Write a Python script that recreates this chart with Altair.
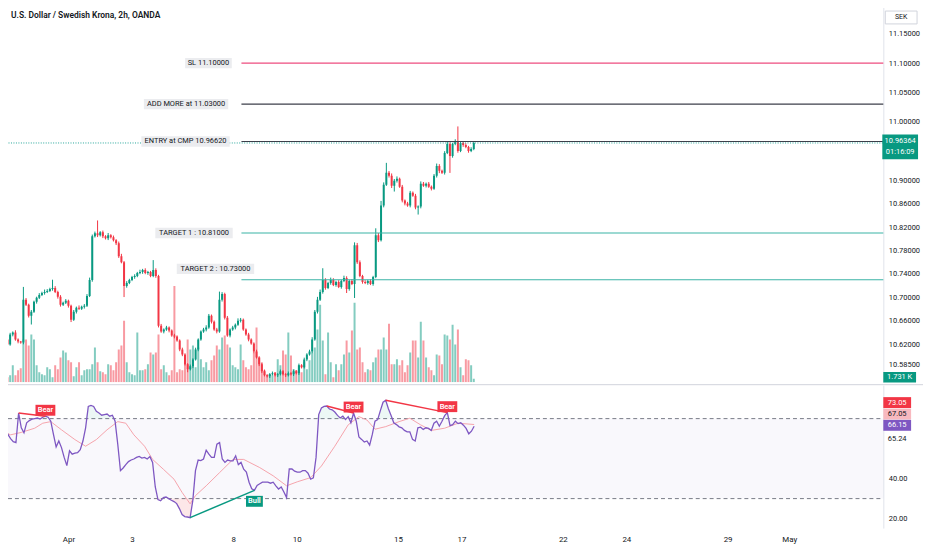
import altair as alt
import pandas as pd

# ---------------- data ----------------
TITLE = "U.S. Dollar / Swedish Krona, 2h, OANDA"
CURRENCY = "SEK"

FIRST_OPEN = 10.6279
CLOSE = [
    10.6194, 10.6364, 10.6398, 10.6279, 10.6245, 10.6228, 10.6958, 10.6872, 10.6686, 10.6754,
    10.6923, 10.6991, 10.7042, 10.7076, 10.7093, 10.7110, 10.7144, 10.7161, 10.7093, 10.7008,
    10.6872, 10.6906, 10.6940, 10.6855, 10.6618, 10.6754, 10.6822, 10.6805, 10.6838, 10.6855,
    10.7025, 10.7297, 10.8042, 10.8093, 10.8059, 10.8110, 10.8042, 10.8008, 10.8059, 10.8025,
    10.7974, 10.7923, 10.7703, 10.7601, 10.7195, 10.7246, 10.7297, 10.7347, 10.7364, 10.7415,
    10.7432, 10.7466, 10.7415, 10.7432, 10.7364, 10.7466, 10.7364, 10.6516, 10.6415, 10.6449,
    10.6483, 10.6432, 10.6347, 10.6330, 10.6262, 10.6110, 10.6025, 10.5856, 10.5771, 10.5822,
    10.5940, 10.6110, 10.6279, 10.6415, 10.6449, 10.6483, 10.6686, 10.6584, 10.6449, 10.6415,
    10.6958, 10.7059, 10.6652, 10.6347, 10.6449, 10.6483, 10.6533, 10.6601, 10.6618, 10.6449,
    10.6364, 10.6279, 10.6211, 10.6076, 10.5974, 10.5856, 10.5737, 10.5669, 10.5652, 10.5686,
    10.5703, 10.5669, 10.5686, 10.5737, 10.5686, 10.5669, 10.5703, 10.5686, 10.5737, 10.5703,
    10.5839, 10.5805, 10.5940, 10.6025, 10.6076, 10.6279, 10.6754, 10.6958, 10.7093, 10.7297,
    10.7161, 10.7246, 10.7297, 10.7212, 10.7263, 10.7178, 10.7280, 10.7330, 10.7144, 10.7280,
    10.7229, 10.7889, 10.7601, 10.7364, 10.7263, 10.7246, 10.7280, 10.7229, 10.7347, 10.8059,
    10.7974, 10.8567, 10.8923, 10.9127, 10.9076, 10.8907, 10.8991, 10.9025, 10.8890, 10.8652,
    10.8601, 10.8567, 10.8788, 10.8737, 10.8534, 10.8550, 10.8940, 10.8907, 10.8940, 10.8890,
    10.8856, 10.9076, 10.9245, 10.9161, 10.9127, 10.9466, 10.9618, 10.9415, 10.9618, 10.9669,
    10.9500, 10.9635, 10.9601, 10.9567, 10.9500, 10.9533, 10.96364,
]
# wick lengths beyond the body, in thousandths of a krona
UPPER_WICK = [
    2, 3, 2, 4, 2, 1, 22, 3, 2, 3,
    2, 2, 3, 2, 4, 3, 2, 14, 3, 2,
    3, 2, 3, 2, 2, 3, 2, 4, 2, 3,
    3, 4, 3, 3, 22, 2, 3, 2, 4, 2,
    3, 2, 3, 4, 2, 3, 2, 2, 3, 2,
    4, 2, 3, 2, 2, 17, 3, 2, 3, 2,
    3, 2, 2, 3, 2, 2, 3, 2, 2, 3,
    2, 3, 2, 2, 3, 4, 3, 2, 2, 3,
    14, 3, 2, 3, 2, 3, 2, 4, 3, 2,
    2, 3, 2, 2, 3, 2, 2, 3, 2, 2,
    3, 2, 2, 3, 2, 2, 3, 2, 3, 2,
    3, 2, 3, 2, 3, 4, 3, 5, 4, 20,
    3, 2, 4, 3, 2, 3, 2, 4, 3, 2,
    3, 5, 4, 3, 2, 3, 2, 3, 2, 12,
    4, 8, 4, 17, 3, 4, 3, 4, 2, 3,
    2, 3, 3, 2, 3, 2, 4, 3, 2, 3,
    2, 3, 4, 3, 2, 3, 4, 3, 2, 3,
    25, 3, 2, 3, 2, 3, 2,
]
LOWER_WICK = [
    2, 2, 3, 2, 3, 2, 3, 2, 3, 15,
    2, 3, 2, 2, 3, 2, 2, 3, 2, 3,
    3, 2, 2, 3, 4, 2, 3, 2, 2, 3,
    2, 2, 3, 2, 3, 2, 3, 2, 3, 2,
    2, 3, 3, 2, 19, 3, 2, 2, 3, 2,
    2, 3, 2, 3, 2, 2, 3, 3, 2, 3,
    2, 3, 2, 3, 2, 3, 3, 2, 5, 2,
    3, 2, 3, 2, 2, 3, 2, 3, 2, 3,
    2, 3, 3, 2, 3, 2, 3, 2, 3, 2,
    2, 3, 2, 3, 2, 3, 3, 2, 2, 3,
    2, 2, 3, 2, 2, 3, 2, 2, 3, 2,
    3, 2, 2, 3, 2, 3, 2, 3, 2, 3,
    3, 2, 3, 2, 3, 2, 3, 2, 7, 3,
    2, 24, 3, 2, 3, 2, 3, 2, 3, 2,
    3, 2, 3, 2, 3, 4, 10, 3, 2, 3,
    3, 2, 3, 2, 3, 12, 3, 2, 3, 2,
    3, 2, 3, 4, 2, 3, 2, 29, 3, 2,
    3, 2, 3, 2, 3, 2, 2,
]
VOLUME_K = [
    2.5, 3.5, 8.5, 3.5, 6, 7, 21.5, 21.5, 18.5, 24,
    21.5, 8.5, 5, 4, 3.5, 7.5, 6.5, 2.5, 8.5, 6.5,
    12.5, 16, 15, 11, 10, 3, 7.5, 10, 3.5, 6,
    6.5, 6.5, 9, 17.5, 10, 5.5, 5, 4, 9, 8.5,
    6, 10, 16.5, 18.5, 31, 10, 5, 4, 3.5, 25,
    6, 6, 6.5, 9, 15, 14, 15, 24, 6.5, 8.5,
    5, 3.5, 6, 48.5, 5, 6.5, 6, 12.5, 21.5, 16.5,
    18.5, 7.5, 17.5, 11.5, 7.5, 10, 6, 11, 13.5, 18.5,
    16.5, 22.5, 23.5, 19, 17.5, 8.5, 7.5, 6.5, 19, 11,
    7.5, 6.5, 8.5, 15, 27.5, 12.5, 10, 6, 3.5, 4,
    3.5, 5, 11.5, 8.5, 16, 14, 25, 13.5, 6.5, 6,
    8.5, 5, 10, 6.5, 11, 15, 17.5, 26.5, 39, 21,
    4, 25, 10, 2.5, 9, 6, 9, 14, 21, 15,
    26, 40, 16.5, 17.5, 10, 5, 6.5, 6, 10, 12.5,
    16.5, 16.5, 22.5, 16.5, 29.5, 9, 9, 11.5, 8.5, 11,
    5, 8.5, 15, 21, 21, 12.5, 30.5, 21, 12.5, 7.5,
    6, 3.5, 14, 13.5, 9, 24, 23.5, 21.5, 29, 19,
    26.5, 7.5, 3.5, 11.5, 11, 8.5, 1.731,
]
RSI = [
    65.4, 65.1, 62.1, 60.0, 58.5, 58.0, 72.8, 65.4, 62.9, 67.9,
    69.0, 69.7, 70.0, 70.3, 69.8, 70.7, 71.2, 70.7, 68.7, 62.1,
    55.8, 58.8, 55.5, 50.6, 46.5, 53.9, 52.2, 52.7, 53.0, 54.5,
    58.8, 65.4, 76.1, 76.6, 76.1, 73.6, 72.8, 71.7, 72.0, 72.3,
    71.2, 71.7, 68.7, 57.2, 44.0, 45.3, 47.0, 48.5, 49.3, 49.8,
    50.6, 51.1, 50.3, 50.6, 49.8, 51.0, 48.1, 35.8, 29.5, 28.9,
    30.5, 30.8, 30.0, 29.2, 28.5, 27.5, 25.0, 22.0, 21.0, 20.8,
    20.5, 29.0, 44.0, 49.3, 49.0, 49.8, 54.2, 52.2, 50.6, 50.6,
    57.2, 58.0, 49.8, 48.1, 49.3, 48.9, 48.9, 51.4, 47.0, 48.1,
    44.7, 43.3, 38.2, 34.9, 34.1, 36.6, 37.4, 38.2, 38.2, 38.2,
    37.7, 38.2, 36.4, 34.8, 35.8, 33.3, 30.5, 44.8, 44.8, 43.7,
    43.2, 43.2, 44.0, 44.0, 42.7, 39.7, 40.4, 50.6, 72.0, 75.3,
    76.1, 76.3, 74.8, 74.4, 73.3, 71.6, 70.3, 71.2, 69.5, 71.0,
    67.9, 72.8, 68.7, 60.8, 59.6, 58.3, 58.8, 56.7, 62.1, 68.7,
    69.5, 74.0, 78.2, 79.2, 74.9, 71.5, 67.9, 67.0, 65.9, 65.4,
    64.1, 63.4, 63.4, 59.6, 58.8, 65.4, 65.7, 64.6, 65.4, 65.1,
    64.1, 67.7, 68.7, 66.2, 68.7, 71.5, 73.0, 66.5, 67.0, 68.7,
    67.5, 67.9, 66.7, 65.1, 62.4, 63.7, 66.15,
]
RSI_MA_BAR = [0, 3, 7, 12, 15, 18, 22, 27, 31, 35, 39, 43, 46, 49, 53, 56, 60, 64, 67, 70,
              72, 76, 81, 86, 90, 96, 101, 106, 110, 115, 119, 124, 129, 133, 136, 139, 143,
              148, 152, 156, 160, 165, 170, 176]
RSI_MA = [63.6, 61.9, 63.1, 65.2, 67.7, 68.5, 64.4, 59.5, 56.2, 59.5, 64.4, 68.5, 67.7, 61.9,
          56.2, 49.6, 44.7, 39.7, 33.1, 27.4, 31.5, 36.4, 43.0, 49.6, 49.6, 45.5, 41.4, 36.4,
          38.4, 40.5, 46.3, 56.2, 66.9, 71.0, 69.3, 64.7, 66.0, 68.5, 70.2, 66.9, 64.1, 65.2,
          67.7, 67.05]

DIV_KIND = ["Bear", "Bear", "Bear", "Bull"]
DIV_FROM_BAR = [6, 121, 143, 70]
DIV_FROM_RSI = [72.8, 76.3, 79.2, 20.5]
DIV_TO_BAR = [16, 131, 166, 94]
DIV_TO_RSI = [71.2, 72.8, 73.0, 34.1]

PRICE_TICKS = [11.15, 11.10, 11.05, 11.00, 10.90, 10.86, 10.82, 10.78, 10.74, 10.70,
               10.66, 10.62, 10.585]
RSI_TICKS = [40, 20]
DATE_TICK_BARS = [24.6, 48.3, 86.1, 109.8, 147.6, 171.3, 209.1, 232.8, 270.6, 293.6]
DATE_LABELS = ["Apr", "3", "8", "10", "15", "17", "22", "24", "29", "May"]

LEVEL_TEXT = ["SL 11.10000", "ADD MORE at 11.03000", "ENTRY at CMP 10.96620",
              "TARGET 1 : 10.81000", "TARGET 2 : 10.73000"]
LEVEL_PRICE = [11.10, 11.03, 10.9662, 10.81, 10.73]
LEVEL_FROM_BAR = 88.3
LEVEL_LABEL_BAR = [75.85, 67.4, 67.2, 70.4, 78.5]

LAST_PRICE = 10.96364
COUNTDOWN = "01:16:09"
LAST_VOLUME_K = 1.731
RSI_LAST = 66.15
RSI_MA_LAST = 67.05
RSI_UPPER = 73.05
RSI_OTHER = 65.24

# ---------------- styling / layout ----------------
FONT = "Roboto"
TXT = "#131722"
UP = "#089981"
DOWN = "#F23645"
LEVEL_COLOR = ["#ee4d7f", "#3c3f4a", "#3c3f4a", "#3bb3a6", "#3bb3a6"]
LEVEL_BOX_W = [47, 85, 89, 78, 78]
LEVEL_DY = [0, 0, 0, 0, -11]

W = 889
H_TOP = 383
H_RSI = 144
X_DOMAIN = [-0.556, 328.7]
PRICE_DOMAIN = [10.55508, 11.20424]
VOL_DOMAIN = [0, 191.5]
RSI_DOMAIN = [15.26, 86.72]
RX = W + 16  # centre of the right-hand value boxes


def box(w, h):
    return f"M{-w / 2},{-h / 2}H{w / 2}V{h / 2}H{-w / 2}Z"


n = len(CLOSE)
opens = [FIRST_OPEN] + CLOSE[:-1]
rows = []
for i in range(n):
    o, c = opens[i], CLOSE[i]
    rows.append(dict(
        i=i, open=o, close=c,
        high=max(o, c) + UPPER_WICK[i] / 1000.0,
        low=min(o, c) - LOWER_WICK[i] / 1000.0,
        vol=VOLUME_K[i], rsi=RSI[i],
        col=UP if c >= o else DOWN,
    ))
df = pd.DataFrame(rows)

xs = alt.Scale(domain=X_DOMAIN, nice=False, zero=False)
ps = alt.Scale(domain=PRICE_DOMAIN, nice=False, zero=False)
vs = alt.Scale(domain=VOL_DOMAIN, nice=False, zero=False)
rs = alt.Scale(domain=RSI_DOMAIN, nice=False, zero=False)
dir_color = alt.Color("col:N", scale=None)

price_axis = alt.Axis(orient="right", values=PRICE_TICKS, format=".5f", ticks=False, grid=False,
                      domain=True, domainColor="#e0e3eb", labelPadding=5, labelFontSize=7.5,
                      labelColor=TXT, labelFont=FONT, title=None)
rsi_axis = alt.Axis(orient="right", values=RSI_TICKS, format=".2f", ticks=False, grid=False,
                    domain=True, domainColor="#e0e3eb", labelPadding=5, labelFontSize=7.5,
                    labelColor=TXT, labelFont=FONT, title=None)
label_expr = f"{DATE_LABELS}[indexof({DATE_TICK_BARS}, datum.value)]"
date_axis = alt.Axis(values=DATE_TICK_BARS, labelExpr=label_expr, ticks=False, domain=False,
                     grid=False, labelPadding=8, labelFontSize=8, labelColor=TXT, labelFont=FONT,
                     title=None)


def XT(f):
    return alt.X(f, scale=xs, axis=None, title=None)


def YP(f):
    return alt.Y(f, scale=ps, axis=price_axis, title=None)


def XR(f):
    return alt.X(f, scale=xs, axis=date_axis, title=None)


def YR(f):
    return alt.Y(f, scale=rs, axis=rsi_axis, title=None)


def YV(f):
    return alt.Y(f, scale=vs, axis=None, title=None)


base = alt.Chart(df)

# ---- volume group ----
vol_bars = base.mark_bar(size=2, opacity=0.5, clip=True).encode(
    x=XT("i:Q"), y=YV("vol:Q"), y2=alt.datum(0), color=dir_color)
vlab = pd.DataFrame({"vol": [LAST_VOLUME_K], "t": [f"{LAST_VOLUME_K:.3f} K"]})
vol_box = alt.Chart(vlab).mark_point(shape=box(33, 10.5), size=4, filled=True, color=UP, opacity=1,
                                     strokeWidth=0, yOffset=-1.5).encode(x=alt.value(RX + 0.5), y=YV("vol:Q"))
vol_txt = alt.Chart(vlab).mark_text(font=FONT, fontSize=7.5, color="white", yOffset=-1.5).encode(
    x=alt.value(RX + 0.5), y=YV("vol:Q"), text="t:N")
vol_group = alt.layer(vol_bars, vol_box, vol_txt)

# ---- price group ----
wicks = base.mark_rule(strokeWidth=1, clip=True).encode(
    x=XT("i:Q"), y=YP("low:Q"), y2="high:Q", color=dir_color)
bodies = base.mark_bar(size=2, clip=True).encode(
    x=XT("i:Q"), y=YP("open:Q"), y2="close:Q", color=dir_color)

lev = pd.DataFrame({"price": LEVEL_PRICE, "text": LEVEL_TEXT, "color": LEVEL_COLOR,
                    "start": [LEVEL_FROM_BAR] * len(LEVEL_PRICE), "lbar": LEVEL_LABEL_BAR})
cur = pd.DataFrame({"price": [LAST_PRICE], "p": [f"{LAST_PRICE:.5f}"], "cd": [COUNTDOWN]})

cur_line = alt.Chart(cur).mark_rule(color="#26a69a", strokeDash=[1, 1.5], strokeWidth=1).encode(
    x=alt.value(0), x2=alt.value(W), y=YP("price:Q"))
level_lines = alt.Chart(lev).mark_rule(strokeWidth=1.1).encode(
    x=XT("start:Q"), x2=alt.value(W), y=YP("price:Q"), color=alt.Color("color:N", scale=None))

label_layers = []
for k in range(len(LEVEL_TEXT)):
    one = alt.Chart(lev.iloc[[k]])
    label_layers.append(one.mark_point(shape=box(LEVEL_BOX_W[k], 10.5), size=4, filled=True,
                                       color="#ebecef", opacity=1, strokeWidth=0,
                                       yOffset=LEVEL_DY[k]).encode(x=XT("lbar:Q"), y=YP("price:Q")))
    label_layers.append(one.mark_text(font=FONT, fontSize=7.5, color=TXT, yOffset=LEVEL_DY[k]).encode(
        x=XT("lbar:Q"), y=YP("price:Q"), text="text:N"))

cur_box = alt.Chart(cur).mark_point(shape=box(36, 25), size=4, filled=True, color=UP, opacity=1,
                                    strokeWidth=0, yOffset=4).encode(x=alt.value(RX + 1), y=YP("price:Q"))
cur_t1 = alt.Chart(cur).mark_text(font=FONT, fontSize=7.5, color="white", yOffset=-2).encode(
    x=alt.value(RX + 1), y=YP("price:Q"), text="p:N")
cur_t2 = alt.Chart(cur).mark_text(font=FONT, fontSize=7.5, color="white", yOffset=9).encode(
    x=alt.value(RX + 1), y=YP("price:Q"), text="cd:N")

meta = pd.DataFrame({"title": [TITLE], "cur": [CURRENCY]})
title_txt = alt.Chart(meta).mark_text(font=FONT, fontSize=8.5, fontWeight=600, color=TXT, align="left",
                                      baseline="middle").encode(x=alt.value(10), y=alt.value(13), text="title:N")
sek_box = alt.Chart(meta).mark_point(shape=box(32, 13), size=4, filled=True, fill="white",
                                     stroke="#d1d4dc", strokeWidth=1, opacity=1).encode(
    x=alt.value(W + 18), y=alt.value(15.5))
sek_txt = alt.Chart(meta).mark_text(font=FONT, fontSize=7, color=TXT).encode(
    x=alt.value(W + 18), y=alt.value(15.5), text="cur:N")

price_group = alt.layer(wicks, bodies, cur_line, level_lines, *label_layers, cur_box, cur_t1, cur_t2,
                        title_txt, sek_box, sek_txt)

top = alt.layer(vol_group, price_group).resolve_scale(y="independent").properties(width=W, height=H_TOP)

# ---- RSI pane ----
band_df = pd.DataFrame({"hi": [70], "lo": [30]})
band = alt.Chart(band_df).mark_rect(color="#7E57C2", opacity=0.045).encode(
    x=alt.value(0), x2=alt.value(W), y=YR("hi:Q"), y2="lo:Q")
dash_df = pd.DataFrame({"lvl": [70, 30]})
dashes = alt.Chart(dash_df).mark_rule(color="#787b86", strokeDash=[4, 3], strokeWidth=1).encode(
    x=alt.value(0), x2=alt.value(W), y=YR("lvl:Q"))
ob = base.transform_calculate(hi="max(datum.rsi, 70)").mark_area(color=UP, opacity=0.08, clip=True).encode(
    x=XR("i:Q"), y=YR("hi:Q"), y2=alt.datum(70))
os_ = base.transform_calculate(lo="min(datum.rsi, 30)").mark_area(color=DOWN, opacity=0.12, clip=True).encode(
    x=XR("i:Q"), y=YR("lo:Q"), y2=alt.datum(30))
ma_df = pd.DataFrame({"bar": RSI_MA_BAR, "ma": RSI_MA})
ma_line = alt.Chart(ma_df).mark_line(color="#f5a3ab", strokeWidth=1, clip=True).encode(
    x=XR("bar:Q"), y=YR("ma:Q"))
rsi_line = base.mark_line(color="#7E57C2", strokeWidth=1.3, clip=True).encode(
    x=XR("i:Q"), y=YR("rsi:Q"))

div = pd.DataFrame({"kind": DIV_KIND, "x0": DIV_FROM_BAR, "y0": DIV_FROM_RSI,
                    "x1": DIV_TO_BAR, "y1": DIV_TO_RSI})
divc = alt.Chart(div).transform_calculate(
    c=f"datum.kind == 'Bear' ? '{DOWN}' : '{UP}'")
div_lines = divc.mark_rule(strokeWidth=1.5).encode(
    x=XR("x0:Q"), x2="x1:Q", y=YR("y0:Q"), y2="y1:Q", color=alt.Color("c:N", scale=None))
bear = alt.Chart(div).transform_filter("datum.kind == 'Bear'")
bull = alt.Chart(div).transform_filter("datum.kind == 'Bull'")
bear_box = bear.mark_point(shape=box(20, 11), size=4, filled=True, color=DOWN, opacity=1,
                           strokeWidth=0, yOffset=-6).encode(x=XR("x1:Q"), y=YR("y1:Q"))
bear_txt = bear.mark_text(font=FONT, fontSize=7.5, fontWeight=600, color="white", yOffset=-6).encode(
    x=XR("x1:Q"), y=YR("y1:Q"), text="kind:N")
bull_box = bull.mark_point(shape=box(17, 11), size=4, filled=True, color=UP, opacity=1,
                           strokeWidth=0, yOffset=11).encode(x=XR("x1:Q"), y=YR("y1:Q"))
bull_txt = bull.mark_text(font=FONT, fontSize=7.5, fontWeight=600, color="white", yOffset=11).encode(
    x=XR("x1:Q"), y=YR("y1:Q"), text="kind:N")

vals = pd.DataFrame({"v": [RSI_UPPER, RSI_MA_LAST, RSI_LAST, RSI_OTHER],
                     "t": [f"{RSI_UPPER:.2f}", f"{RSI_MA_LAST:.2f}", f"{RSI_LAST:.2f}", f"{RSI_OTHER:.2f}"]})
BOX_FILL = [DOWN, "#f8b9bf", "#7E57C2"]
BOX_TXT = ["white", TXT, "white", TXT]
BOX_DY = [-10, -10.5, -1, 10.5]
val_layers = []
for k in range(4):
    one = alt.Chart(vals.iloc[[k]])
    if k < 3:
        val_layers.append(one.mark_point(shape=box(28, 11), size=4, filled=True, color=BOX_FILL[k],
                                         opacity=1, strokeWidth=0, yOffset=BOX_DY[k]).encode(
            x=alt.value(RX - 2), y=YR("v:Q")))
    val_layers.append(one.mark_text(font=FONT, fontSize=7.5, color=BOX_TXT[k], yOffset=BOX_DY[k]).encode(
        x=alt.value(RX - 2), y=YR("v:Q"), text="t:N"))

sep = alt.Chart(meta).mark_rule(color="#d1d4dc", strokeWidth=1).encode(
    x=alt.value(0), x2=alt.value(W + 40), y=alt.value(-0.5))

bottom = alt.layer(band, dashes, ob, os_, ma_line, rsi_line, div_lines, bear_box, bear_txt,
                   bull_box, bull_txt, *val_layers, sep).properties(width=W, height=H_RSI)

chart = alt.vconcat(top, bottom, spacing=1).properties(
    padding={"left": -8, "top": -8, "right": 0, "bottom": 0}, background="white"
).configure_view(stroke=None).configure_text(font=FONT)

chart.save("out.html", embed_options={"renderer": "svg", "actions": False})
